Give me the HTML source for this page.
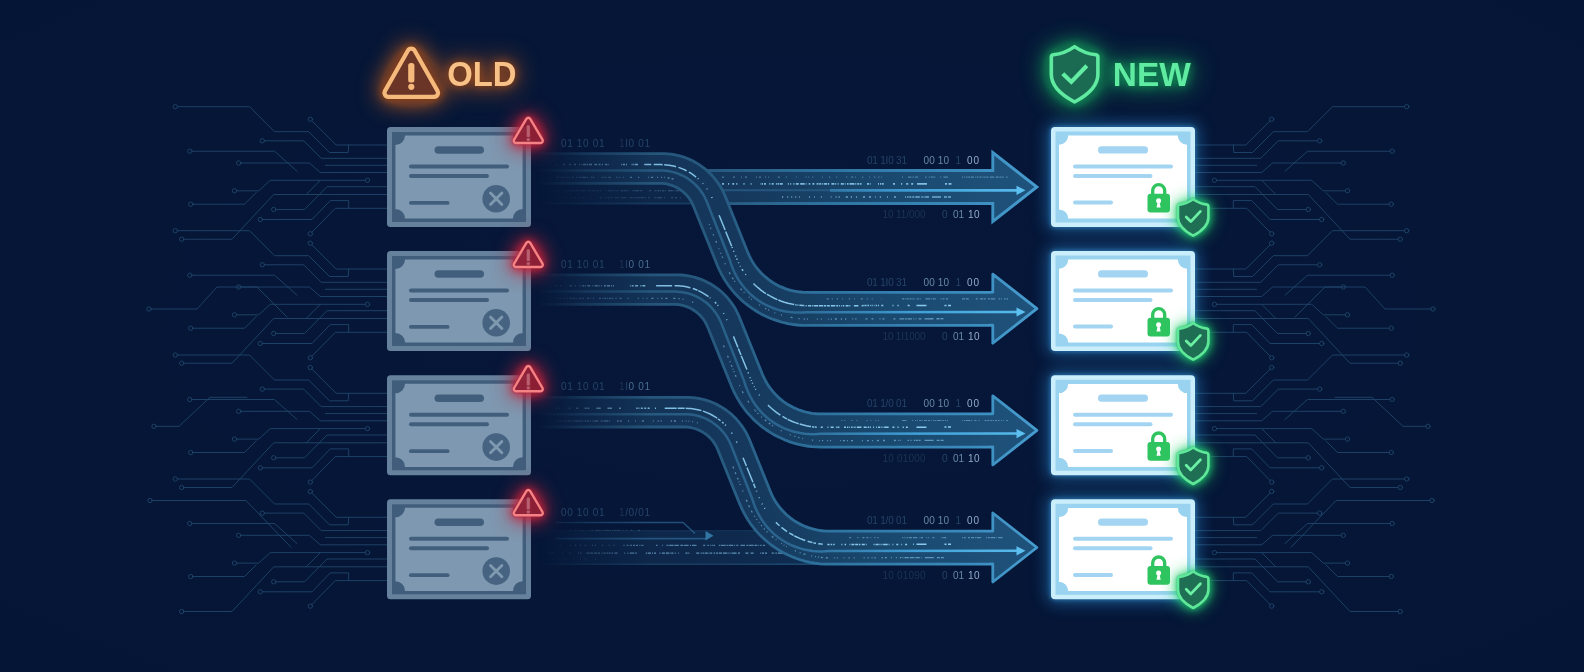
<!DOCTYPE html>
<html lang="en"><head><meta charset="utf-8"><title>Old vs New certificates</title>
<style>html,body{margin:0;padding:0;background:#051535;overflow:hidden}svg{display:block}text{font-family:"Liberation Sans",sans-serif}</style></head><body>
<svg width="1584" height="672" viewBox="0 0 1584 672">
<defs>
<radialGradient id="bgG" cx="50%" cy="48%" r="70%"><stop offset="0" stop-color="#06173a"/><stop offset="0.6" stop-color="#051637"/><stop offset="1" stop-color="#051535"/></radialGradient>
<linearGradient id="edgeG" gradientUnits="userSpaceOnUse" x1="540" y1="0" x2="1040" y2="0"><stop offset="0" stop-color="#235072"/><stop offset="0.35" stop-color="#27597f"/><stop offset="0.6" stop-color="#2f76a3"/><stop offset="0.85" stop-color="#3a8bbd"/><stop offset="1" stop-color="#489ed0"/></linearGradient>
<linearGradient id="fillG" gradientUnits="userSpaceOnUse" x1="540" y1="0" x2="1040" y2="0"><stop offset="0" stop-color="#123053"/><stop offset="0.4" stop-color="#15385c"/><stop offset="0.7" stop-color="#1a496f"/><stop offset="1" stop-color="#1f537c"/></linearGradient>
<linearGradient id="midG" gradientUnits="userSpaceOnUse" x1="540" y1="0" x2="1040" y2="0"><stop offset="0" stop-color="#235072"/><stop offset="0.5" stop-color="#2b6590"/><stop offset="0.75" stop-color="#3f9fd6"/><stop offset="1" stop-color="#5cc0f0"/></linearGradient>
<linearGradient id="dashG" gradientUnits="userSpaceOnUse" x1="540" y1="0" x2="1040" y2="0"><stop offset="0" stop-color="#8cc4e8" stop-opacity="0.5"/><stop offset="0.25" stop-color="#8ed0f5" stop-opacity="0.88"/><stop offset="1" stop-color="#98d8fa" stop-opacity="0.92"/></linearGradient>
<linearGradient id="fadeG" gradientUnits="userSpaceOnUse" x1="536" y1="0" x2="650" y2="0"><stop offset="0" stop-color="#fff" stop-opacity="0"/><stop offset="0.45" stop-color="#fff" stop-opacity="0.55"/><stop offset="1" stop-color="#fff" stop-opacity="1"/></linearGradient>
<mask id="fadeM" maskUnits="userSpaceOnUse" x="0" y="0" width="1584" height="672"><rect x="0" y="0" width="1584" height="672" fill="url(#fadeG)"/></mask>
<filter id="gOrange" x="-120%" y="-120%" width="340%" height="340%" color-interpolation-filters="sRGB"><feGaussianBlur in="SourceAlpha" stdDeviation="13" result="b0"/><feComponentTransfer in="b0" result="a0"><feFuncA type="linear" slope="3.4"/></feComponentTransfer><feFlood flood-color="#c05c1c" flood-opacity="0.46"/><feComposite in2="a0" operator="in" result="g0"/><feGaussianBlur in="SourceAlpha" stdDeviation="5" result="b1"/><feComponentTransfer in="b1" result="a1"><feFuncA type="linear" slope="1.9"/></feComponentTransfer><feFlood flood-color="#b5521a" flood-opacity="0.5"/><feComposite in2="a1" operator="in" result="g1"/><feGaussianBlur in="SourceAlpha" stdDeviation="1.3" result="b2"/><feComponentTransfer in="b2" result="a2"><feFuncA type="linear" slope="1.6"/></feComponentTransfer><feFlood flood-color="#6b3314" flood-opacity="0.7"/><feComposite in2="a2" operator="in" result="g2"/><feMerge><feMergeNode in="g0"/><feMergeNode in="g1"/><feMergeNode in="g2"/><feMergeNode in="SourceGraphic"/></feMerge></filter>
<filter id="gGreen" x="-120%" y="-120%" width="340%" height="340%" color-interpolation-filters="sRGB"><feGaussianBlur in="SourceAlpha" stdDeviation="13" result="b0"/><feComponentTransfer in="b0" result="a0"><feFuncA type="linear" slope="3.4"/></feComponentTransfer><feFlood flood-color="#14a45c" flood-opacity="0.44"/><feComposite in2="a0" operator="in" result="g0"/><feGaussianBlur in="SourceAlpha" stdDeviation="5" result="b1"/><feComponentTransfer in="b1" result="a1"><feFuncA type="linear" slope="1.9"/></feComponentTransfer><feFlood flood-color="#15a25c" flood-opacity="0.5"/><feComposite in2="a1" operator="in" result="g1"/><feGaussianBlur in="SourceAlpha" stdDeviation="1.3" result="b2"/><feComponentTransfer in="b2" result="a2"><feFuncA type="linear" slope="1.6"/></feComponentTransfer><feFlood flood-color="#0e6a42" flood-opacity="0.6"/><feComposite in2="a2" operator="in" result="g2"/><feMerge><feMergeNode in="g0"/><feMergeNode in="g1"/><feMergeNode in="g2"/><feMergeNode in="SourceGraphic"/></feMerge></filter>
<filter id="gGreenS" x="-120%" y="-120%" width="340%" height="340%" color-interpolation-filters="sRGB"><feGaussianBlur in="SourceAlpha" stdDeviation="9" result="b0"/><feComponentTransfer in="b0" result="a0"><feFuncA type="linear" slope="2.6"/></feComponentTransfer><feFlood flood-color="#22d36f" flood-opacity="0.34"/><feComposite in2="a0" operator="in" result="g0"/><feGaussianBlur in="SourceAlpha" stdDeviation="4" result="b1"/><feComponentTransfer in="b1" result="a1"><feFuncA type="linear" slope="1.7"/></feComponentTransfer><feFlood flood-color="#22d36f" flood-opacity="0.5"/><feComposite in2="a1" operator="in" result="g1"/><feGaussianBlur in="SourceAlpha" stdDeviation="1.2" result="b2"/><feComponentTransfer in="b2" result="a2"><feFuncA type="linear" slope="1.4"/></feComponentTransfer><feFlood flood-color="#17a05a" flood-opacity="0.5"/><feComposite in2="a2" operator="in" result="g2"/><feMerge><feMergeNode in="g0"/><feMergeNode in="g1"/><feMergeNode in="g2"/><feMergeNode in="SourceGraphic"/></feMerge></filter>
<filter id="gRed" x="-120%" y="-120%" width="340%" height="340%" color-interpolation-filters="sRGB"><feGaussianBlur in="SourceAlpha" stdDeviation="11" result="b0"/><feComponentTransfer in="b0" result="a0"><feFuncA type="linear" slope="4.5"/></feComponentTransfer><feFlood flood-color="#c4203a" flood-opacity="0.5"/><feComposite in2="a0" operator="in" result="g0"/><feGaussianBlur in="SourceAlpha" stdDeviation="5" result="b1"/><feComponentTransfer in="b1" result="a1"><feFuncA type="linear" slope="2.4"/></feComponentTransfer><feFlood flood-color="#c8243c" flood-opacity="0.6"/><feComposite in2="a1" operator="in" result="g1"/><feGaussianBlur in="SourceAlpha" stdDeviation="1.2" result="b2"/><feComponentTransfer in="b2" result="a2"><feFuncA type="linear" slope="1.4"/></feComponentTransfer><feFlood flood-color="#a01c32" flood-opacity="0.5"/><feComposite in2="a2" operator="in" result="g2"/><feMerge><feMergeNode in="g0"/><feMergeNode in="g1"/><feMergeNode in="g2"/><feMergeNode in="SourceGraphic"/></feMerge></filter>
<filter id="gCard" x="-30%" y="-40%" width="160%" height="180%" color-interpolation-filters="sRGB"><feGaussianBlur stdDeviation="8"/></filter>
<filter id="gCard2" x="-10%" y="-15%" width="120%" height="130%" color-interpolation-filters="sRGB"><feGaussianBlur stdDeviation="2.2"/></filter>
<filter id="blur1" x="-10%" y="-50%" width="120%" height="200%"><feGaussianBlur stdDeviation="0.5"/></filter>
</defs>
<rect width="1584" height="672" fill="url(#bgG)"/>
<g fill="none" stroke="#21476c" stroke-width="0.95" stroke-linecap="round" stroke-linejoin="round" opacity="0.95">
<path d="M387,145L336.2,145L311.9,120.8"/>
<circle cx="310.3" cy="119.2" r="2.2"/>
<path d="M348.7,145L348.2,152.5L329.5,152.5L308.7,131.7L274.5,131.7L249.5,106.7L177.6,106.7"/>
<circle cx="175.3" cy="106.7" r="2.2"/>
<path d="M387,158.3L321.2,158.3L303.7,140.8L264.6,140.8"/>
<circle cx="262.3" cy="140.8" r="2.2"/>
<path d="M387,165.3L325.3,165.3"/>
<path d="M387,172.5L320.3,172.5L309.5,163L240.9,163"/>
<circle cx="238.7" cy="163" r="2.2"/>
<path d="M297,171.2L274.5,151.2L192.1,151.2"/>
<circle cx="189.8" cy="151.2" r="2.2"/>
<path d="M365.2,180.3L270.3,180.3L258.7,190.8L236.8,190.8"/>
<circle cx="367.5" cy="180.3" r="2.2"/>
<circle cx="234.5" cy="190.8" r="2.2"/>
<path d="M256.2,192.5L244.5,204.2L192.9,204.2"/>
<circle cx="190.7" cy="204.2" r="2.2"/>
<path d="M320.3,180.3L306.2,194.5"/>
<path d="M387,186.7L327,186.7L304.5,209.5L275.9,209.5"/>
<circle cx="273.7" cy="209.5" r="2.2"/>
<path d="M387,194.5L273.7,194.5L232,239.2L183.9,239.2"/>
<circle cx="181.7" cy="239.2" r="2.2"/>
<path d="M387,208.3L335.3,208.3L311.9,232.2"/>
<circle cx="310.3" cy="233.8" r="2.2"/>
<path d="M348.7,208.3L348.7,200.6L330.3,200.6L312,219.5L262.6,219.5"/>
<circle cx="260.3" cy="219.5" r="2.2"/>
<path d="M387,269L336.2,269L311.9,244.8"/>
<circle cx="310.3" cy="243.2" r="2.2"/>
<path d="M348.7,269L348.2,276.5L329.5,276.5L308.7,255.7L274.5,255.7L249.5,230.7L177.6,230.7"/>
<circle cx="175.3" cy="230.7" r="2.2"/>
<path d="M387,282.3L321.2,282.3L303.7,264.8L264.6,264.8"/>
<circle cx="262.3" cy="264.8" r="2.2"/>
<path d="M387,289.3L325.3,289.3"/>
<path d="M387,296.5L320.3,296.5L309.5,287L240.9,287"/>
<circle cx="238.7" cy="287" r="2.2"/>
<path d="M297,295.2L274.5,275.2L192.1,275.2"/>
<circle cx="189.8" cy="275.2" r="2.2"/>
<path d="M365.2,304.3L270.3,304.3L258.7,314.8L236.8,314.8"/>
<circle cx="367.5" cy="304.3" r="2.2"/>
<circle cx="234.5" cy="314.8" r="2.2"/>
<path d="M256.2,316.5L244.5,328.2L192.9,328.2"/>
<circle cx="190.7" cy="328.2" r="2.2"/>
<path d="M320.3,304.3L306.2,318.5"/>
<path d="M387,310.7L327,310.7L304.5,333.5L275.9,333.5"/>
<circle cx="273.7" cy="333.5" r="2.2"/>
<path d="M387,318.5L273.7,318.5L232,363.2L183.9,363.2"/>
<circle cx="181.7" cy="363.2" r="2.2"/>
<path d="M387,332.3L335.3,332.3L311.9,356.2"/>
<circle cx="310.3" cy="357.8" r="2.2"/>
<path d="M348.7,332.3L348.7,324.6L330.3,324.6L312,343.5L262.6,343.5"/>
<circle cx="260.3" cy="343.5" r="2.2"/>
<path d="M287,317L257,287L217,287L197,309L151.2,309"/>
<circle cx="149" cy="309" r="2.2"/>
<path d="M387,393.3L336.2,393.3L311.9,369.1"/>
<circle cx="310.3" cy="367.5" r="2.2"/>
<path d="M348.7,393.3L348.2,400.8L329.5,400.8L308.7,380L274.5,380L249.5,355L177.6,355"/>
<circle cx="175.3" cy="355" r="2.2"/>
<path d="M387,406.6L321.2,406.6L303.7,389.1L264.6,389.1"/>
<circle cx="262.3" cy="389.1" r="2.2"/>
<path d="M387,413.6L325.3,413.6"/>
<path d="M387,420.8L320.3,420.8L309.5,411.3L240.9,411.3"/>
<circle cx="238.7" cy="411.3" r="2.2"/>
<path d="M297,419.5L274.5,399.5L192.1,399.5"/>
<circle cx="189.8" cy="399.5" r="2.2"/>
<path d="M365.2,428.6L270.3,428.6L258.7,439.1L236.8,439.1"/>
<circle cx="367.5" cy="428.6" r="2.2"/>
<circle cx="234.5" cy="439.1" r="2.2"/>
<path d="M256.2,440.8L244.5,452.5L192.9,452.5"/>
<circle cx="190.7" cy="452.5" r="2.2"/>
<path d="M320.3,428.6L306.2,442.8"/>
<path d="M387,435L327,435L304.5,457.8L275.9,457.8"/>
<circle cx="273.7" cy="457.8" r="2.2"/>
<path d="M387,442.8L273.7,442.8L232,487.5L183.9,487.5"/>
<circle cx="181.7" cy="487.5" r="2.2"/>
<path d="M387,456.6L335.3,456.6L311.9,480.5"/>
<circle cx="310.3" cy="482.1" r="2.2"/>
<path d="M348.7,456.6L348.7,448.9L330.3,448.9L312,467.8L262.6,467.8"/>
<circle cx="260.3" cy="467.8" r="2.2"/>
<path d="M247,397.3L210,397.3L179,426.3L156.2,426.3"/>
<circle cx="154" cy="426.3" r="2.2"/>
<path d="M387,517.3L336.2,517.3L311.9,493.1"/>
<circle cx="310.3" cy="491.5" r="2.2"/>
<path d="M348.7,517.3L348.2,524.8L329.5,524.8L308.7,504L274.5,504L249.5,479L177.6,479"/>
<circle cx="175.3" cy="479" r="2.2"/>
<path d="M387,530.6L321.2,530.6L303.7,513.1L264.6,513.1"/>
<circle cx="262.3" cy="513.1" r="2.2"/>
<path d="M387,537.6L325.3,537.6"/>
<path d="M387,544.8L320.3,544.8L309.5,535.3L240.9,535.3"/>
<circle cx="238.7" cy="535.3" r="2.2"/>
<path d="M297,543.5L274.5,523.5L192.1,523.5"/>
<circle cx="189.8" cy="523.5" r="2.2"/>
<path d="M365.2,552.6L270.3,552.6L258.7,563.1L236.8,563.1"/>
<circle cx="367.5" cy="552.6" r="2.2"/>
<circle cx="234.5" cy="563.1" r="2.2"/>
<path d="M256.2,564.8L244.5,576.5L192.9,576.5"/>
<circle cx="190.7" cy="576.5" r="2.2"/>
<path d="M320.3,552.6L306.2,566.8"/>
<path d="M387,559L327,559L304.5,581.8L275.9,581.8"/>
<circle cx="273.7" cy="581.8" r="2.2"/>
<path d="M387,566.8L273.7,566.8L232,611.5L183.9,611.5"/>
<circle cx="181.7" cy="611.5" r="2.2"/>
<path d="M387,580.6L335.3,580.6L311.9,604.5"/>
<circle cx="310.3" cy="606.1" r="2.2"/>
<path d="M348.7,580.6L348.7,572.9L330.3,572.9L312,591.8L262.6,591.8"/>
<circle cx="260.3" cy="591.8" r="2.2"/>
<path d="M291,547.3L246,500.5L152.2,500.5"/>
<circle cx="150" cy="500.5" r="2.2"/>
</g>
<g fill="none" stroke="#21476c" stroke-width="0.95" stroke-linecap="round" stroke-linejoin="round" opacity="0.95">
<path d="M1195,145L1245.8,145L1270.1,120.8"/>
<circle cx="1271.7" cy="119.2" r="2.2"/>
<path d="M1233.3,145L1233.8,152.5L1252.5,152.5L1273.3,131.7L1307.5,131.7L1332.5,106.7L1404.5,106.7"/>
<circle cx="1406.7" cy="106.7" r="2.2"/>
<path d="M1195,158.3L1260.8,158.3L1278.3,140.8L1317.5,140.8"/>
<circle cx="1319.7" cy="140.8" r="2.2"/>
<path d="M1195,165.3L1256.7,165.3"/>
<path d="M1195,172.5L1261.7,172.5L1272.5,163L1341,163"/>
<circle cx="1343.3" cy="163" r="2.2"/>
<path d="M1285,171.2L1307.5,151.2L1390,151.2"/>
<circle cx="1392.2" cy="151.2" r="2.2"/>
<path d="M1216.8,180.3L1311.7,180.3L1323.3,190.8L1345.2,190.8"/>
<circle cx="1214.5" cy="180.3" r="2.2"/>
<circle cx="1347.5" cy="190.8" r="2.2"/>
<path d="M1325.8,192.5L1337.5,204.2L1389,204.2"/>
<circle cx="1391.3" cy="204.2" r="2.2"/>
<path d="M1261.7,180.3L1275.8,194.5"/>
<path d="M1195,186.7L1255,186.7L1277.5,209.5L1306,209.5"/>
<circle cx="1308.3" cy="209.5" r="2.2"/>
<path d="M1195,194.5L1308.3,194.5L1350,239.2L1398,239.2"/>
<circle cx="1400.3" cy="239.2" r="2.2"/>
<path d="M1210.8,208.3L1246.7,208.3L1270.1,232.2"/>
<circle cx="1271.7" cy="233.8" r="2.2"/>
<path d="M1233.3,208.3L1233.3,200.6L1251.7,200.6L1270,219.5L1319.5,219.5"/>
<circle cx="1321.7" cy="219.5" r="2.2"/>
<path d="M1195,269L1245.8,269L1270.1,244.8"/>
<circle cx="1271.7" cy="243.2" r="2.2"/>
<path d="M1233.3,269L1233.8,276.5L1252.5,276.5L1273.3,255.7L1307.5,255.7L1332.5,230.7L1404.5,230.7"/>
<circle cx="1406.7" cy="230.7" r="2.2"/>
<path d="M1195,282.3L1260.8,282.3L1278.3,264.8L1317.5,264.8"/>
<circle cx="1319.7" cy="264.8" r="2.2"/>
<path d="M1195,289.3L1256.7,289.3"/>
<path d="M1195,296.5L1261.7,296.5L1272.5,287L1341,287"/>
<circle cx="1343.3" cy="287" r="2.2"/>
<path d="M1285,295.2L1307.5,275.2L1390,275.2"/>
<circle cx="1392.2" cy="275.2" r="2.2"/>
<path d="M1216.8,304.3L1311.7,304.3L1323.3,314.8L1345.2,314.8"/>
<circle cx="1214.5" cy="304.3" r="2.2"/>
<circle cx="1347.5" cy="314.8" r="2.2"/>
<path d="M1325.8,316.5L1337.5,328.2L1389,328.2"/>
<circle cx="1391.3" cy="328.2" r="2.2"/>
<path d="M1261.7,304.3L1275.8,318.5"/>
<path d="M1195,310.7L1255,310.7L1277.5,333.5L1306,333.5"/>
<circle cx="1308.3" cy="333.5" r="2.2"/>
<path d="M1195,318.5L1308.3,318.5L1350,363.2L1398,363.2"/>
<circle cx="1400.3" cy="363.2" r="2.2"/>
<path d="M1210.8,332.3L1246.7,332.3L1270.1,356.2"/>
<circle cx="1271.7" cy="357.8" r="2.2"/>
<path d="M1233.3,332.3L1233.3,324.6L1251.7,324.6L1270,343.5L1319.5,343.5"/>
<circle cx="1321.7" cy="343.5" r="2.2"/>
<path d="M1295,317L1325,287L1365,287L1385,309L1430.8,309"/>
<circle cx="1433" cy="309" r="2.2"/>
<path d="M1195,393.3L1245.8,393.3L1270.1,369.1"/>
<circle cx="1271.7" cy="367.5" r="2.2"/>
<path d="M1233.3,393.3L1233.8,400.8L1252.5,400.8L1273.3,380L1307.5,380L1332.5,355L1404.5,355"/>
<circle cx="1406.7" cy="355" r="2.2"/>
<path d="M1195,406.6L1260.8,406.6L1278.3,389.1L1317.5,389.1"/>
<circle cx="1319.7" cy="389.1" r="2.2"/>
<path d="M1195,413.6L1256.7,413.6"/>
<path d="M1195,420.8L1261.7,420.8L1272.5,411.3L1341,411.3"/>
<circle cx="1343.3" cy="411.3" r="2.2"/>
<path d="M1285,419.5L1307.5,399.5L1390,399.5"/>
<circle cx="1392.2" cy="399.5" r="2.2"/>
<path d="M1216.8,428.6L1311.7,428.6L1323.3,439.1L1345.2,439.1"/>
<circle cx="1214.5" cy="428.6" r="2.2"/>
<circle cx="1347.5" cy="439.1" r="2.2"/>
<path d="M1325.8,440.8L1337.5,452.5L1389,452.5"/>
<circle cx="1391.3" cy="452.5" r="2.2"/>
<path d="M1261.7,428.6L1275.8,442.8"/>
<path d="M1195,435L1255,435L1277.5,457.8L1306,457.8"/>
<circle cx="1308.3" cy="457.8" r="2.2"/>
<path d="M1195,442.8L1308.3,442.8L1350,487.5L1398,487.5"/>
<circle cx="1400.3" cy="487.5" r="2.2"/>
<path d="M1210.8,456.6L1246.7,456.6L1270.1,480.5"/>
<circle cx="1271.7" cy="482.1" r="2.2"/>
<path d="M1233.3,456.6L1233.3,448.9L1251.7,448.9L1270,467.8L1319.5,467.8"/>
<circle cx="1321.7" cy="467.8" r="2.2"/>
<path d="M1335,397.3L1372,397.3L1403,426.3L1425.8,426.3"/>
<circle cx="1428" cy="426.3" r="2.2"/>
<path d="M1195,517.3L1245.8,517.3L1270.1,493.1"/>
<circle cx="1271.7" cy="491.5" r="2.2"/>
<path d="M1233.3,517.3L1233.8,524.8L1252.5,524.8L1273.3,504L1307.5,504L1332.5,479L1404.5,479"/>
<circle cx="1406.7" cy="479" r="2.2"/>
<path d="M1195,530.6L1260.8,530.6L1278.3,513.1L1317.5,513.1"/>
<circle cx="1319.7" cy="513.1" r="2.2"/>
<path d="M1195,537.6L1256.7,537.6"/>
<path d="M1195,544.8L1261.7,544.8L1272.5,535.3L1341,535.3"/>
<circle cx="1343.3" cy="535.3" r="2.2"/>
<path d="M1285,543.5L1307.5,523.5L1390,523.5"/>
<circle cx="1392.2" cy="523.5" r="2.2"/>
<path d="M1216.8,552.6L1311.7,552.6L1323.3,563.1L1345.2,563.1"/>
<circle cx="1214.5" cy="552.6" r="2.2"/>
<circle cx="1347.5" cy="563.1" r="2.2"/>
<path d="M1325.8,564.8L1337.5,576.5L1389,576.5"/>
<circle cx="1391.3" cy="576.5" r="2.2"/>
<path d="M1261.7,552.6L1275.8,566.8"/>
<path d="M1195,559L1255,559L1277.5,581.8L1306,581.8"/>
<circle cx="1308.3" cy="581.8" r="2.2"/>
<path d="M1195,566.8L1308.3,566.8L1350,611.5L1398,611.5"/>
<circle cx="1400.3" cy="611.5" r="2.2"/>
<path d="M1210.8,580.6L1246.7,580.6L1270.1,604.5"/>
<circle cx="1271.7" cy="606.1" r="2.2"/>
<path d="M1233.3,580.6L1233.3,572.9L1251.7,572.9L1270,591.8L1319.5,591.8"/>
<circle cx="1321.7" cy="591.8" r="2.2"/>
<path d="M1291,547.3L1336,500.5L1429.8,500.5"/>
<circle cx="1432" cy="500.5" r="2.2"/>
</g>
<g mask="url(#fadeM)">
<g opacity="0.55"><path d="M538,170.4 L712,170.4 L712,203.6 L538,203.6 Z" fill="url(#fillG)"/><path d="M538,170.4 L712,170.4 M538,203.6 L712,203.6" stroke="url(#edgeG)" stroke-width="2" fill="none"/></g>
<path d="M706,170.4L992.8,170.5L992.8,152.5L1036.9,187L992.8,221.5L992.8,203.5L706,203.6Z" fill="url(#fillG)" stroke="url(#edgeG)" stroke-width="2.9" stroke-linejoin="miter"/>
<path d="M830,190.3 L1018,190.3" stroke="url(#midG)" stroke-width="2.8" fill="none"/>
<path d="M1016.5,185.7 L1025.5,190.3 L1016.5,194.9 Z" fill="#5cc0f0"/>
<path d="M706,190.3 L830,190.3" stroke="#2c638d" stroke-width="2" fill="none" opacity="0.7"/>
<path d="M722,177.2 L1010,177.2" fill="none" stroke="url(#dashG)" stroke-width="1.2" stroke-dasharray="2 9 2 6 1 3 2 9 1 2 2 4 1 2 0.8 9 2 6 1 9 0.8 9 0.8 2 0.8 3 1 9 0.8 6 1.2 6 1 9 1 4 2 2 0.8 6 1.2 6 0.8 4 1.2 3 1.2 2 0.6 20 1 5 3 0.7 0.8 0.8 0.8 1 3 7 1.5 2.2 1 1 3 0.7 1 4.7 1 2.2 4.5 14.1 1 1 1 1 1.5 0.7 2 0.7 3 1.4 1 0.7 1.5 1 2 1 1 0.7 1.5 0.7 2 1.4 4.5 1.4 3 0.8 2 0.8 1.5 2.2 1.5 0.5 0 3000" opacity="0.45"/>
<path d="M722,183.8 L955,183.8" fill="none" stroke="url(#dashG)" stroke-width="1.7" stroke-dasharray="2 4 1.2 3 2 2 1.2 6 1.2 6 1 9 0.8 0.6 1 1 2 3.3 1 1.4 2 2.2 1 0.7 1.5 0.7 3 5 1 1.4 1 2.2 1 1.4 3 1.4 4.5 1 0.8 2.2 1.5 2.2 2 2.2 2 0.7 2 1 1 0.7 3 0.7 1.5 2.2 3 0.8 1 1.4 1 2.2 3 1 0.8 1.4 1.5 1 5 0.8 1 1 2 0.8 1.5 5.4 2 0.8 0.8 7.4 1 1 1 0.7 2 9.3 2 6 1.2 4 2 3 2 3.8 10 18 2 1.5 3 0 0 3000" opacity="0.9"/>
<path d="M722,197 L952,197" fill="none" stroke="url(#dashG)" stroke-width="1.6" stroke-dasharray="0 60 1.2 4 1 3 1 3 1 3 0.8 9 1 4 0.8 6 1 9 0.8 4 1 2 1.2 6 2 3 1.2 4 1 6 2 4 2 4 0.8 4 1.2 6 1 6 2 9 1 1 1.5 0.8 2 1 2 1 4.5 1.4 1.5 0.8 1 0.7 3.8 3 9 3 3 1 3 0 0 3000" opacity="0.75"/>
<path d="M552,190.8 L700,190.8" fill="none" stroke="url(#dashG)" stroke-width="1.1" stroke-dasharray="2 2.2 0.8 1 1.5 4.7 1 1 1.5 1 1.5 0.7 3 1 3 0.8 1 0.8 4.5 0.8 0.8 0.8 1 0.8 1.5 1.4 1.5 0.8 1.5 1 2 1 1 5 0.8 1.4 2 0.7 2 1 1 1 1 0.7 0.8 2.2 3 0.7 3 1 0.8 3.5 1.5 0.7 4.5 1 2 7 2 3.5 1.5 1 2 0.8 1 1 2 0.8 1 2.2 4.5 0.8 1 1.4 3 0.7 2 1 3 6.8 0.8 1 1.5 0.8 1 2.2 2.5 0 0 3000" opacity="0.35"/>
<path d="M560,197.8 L690,197.8" fill="none" stroke="url(#dashG)" stroke-width="1.1" stroke-dasharray="0.8 6 1.2 2 0.8 3 2 4 1.2 2 1.2 6 1 6 0.8 2 2 2.2 1 1 1 1 2 1 1.5 2.2 2 0.7 1.5 2.2 4.5 0.8 0.8 2.2 3 1 1 0.7 1.5 0.7 2 1 3 1 1.5 2.2 1.5 4.8 2 1 4.5 2 1 6 2 2 2 3 0.8 9 0 3000" opacity="0.3"/>
<g opacity="0.6"><path d="M538,530.7 L840,530.7 L840,564.3 L538,564.3 Z" fill="url(#fillG)"/><path d="M538,564.3 L830,564.3" stroke="url(#edgeG)" stroke-width="1.6" fill="none"/><path d="M538,530.7 L800,530.7" stroke="url(#edgeG)" stroke-width="1.2" fill="none" opacity="0.6"/></g>
<g opacity="0.7" fill="none" stroke="#2f6a96" stroke-width="1.6"><path d="M556,522.5 L683,522.5 L695,533.5"/><path d="M556,538.6 L707,538.6"/></g>
<path d="M705.5,531 L713.5,535.8 L705.5,540.6 Z" fill="#3a82b4" opacity="0.85"/>
<path d="M560,530.3 L640,530.3" fill="none" stroke="url(#dashG)" stroke-width="1.0" stroke-dasharray="1.2 9 0.8 4 1 3 1.2 2 1 6.8 0.8 1.4 0.8 2.2 4.5 0.8 1 0.7 0.8 1 1.5 0.8 3 1 0.8 0.8 1 0.8 2 1 2 1 0.8 2 0.8 3 0.8 4 1 6 1.6 0 0 3000" opacity="0.45"/>
<path d="M560,545.3 L770,545.3" fill="none" stroke="url(#dashG)" stroke-width="1.2" stroke-dasharray="0.8 9 1 4 1.2 4 1 4 1 6 1 2 1 6 0.8 6 0.8 4 0.8 9 1.2 2 2 1.4 2 1 2 1 2 1.4 1 1 2 12.6 1.5 4.7 0.8 3.5 2 0.7 4.5 0.7 4.5 1.4 3 0.8 4.5 1.4 1 1 4.5 6.7 2 2.2 1.5 1.4 1 0.7 0.8 0.7 1.5 3.9 1.5 0.7 4.5 0.8 1.5 0.7 4.5 0.8 1 1.4 2 2.2 4.5 1.4 2 0.7 4.5 0.8 3 1 0.8 1 1.5 1.4 2 7 1.5 1.4 0.8 0.2 0 3000" opacity="0.6"/>
<path d="M548,553.2 L800,553.2" fill="none" stroke="url(#dashG)" stroke-width="1.3" stroke-dasharray="1.2 2 2 9 1 6 1.2 7.6 1 1 1.5 5 3 0.7 3 1 3 0.8 2 1.4 1 1 2 1 1.5 0.7 2 1 1.5 1.4 3 6.7 1 2.2 1 1.4 4.5 1 1.5 9 1.5 0.7 3 1 1 1 2 3.5 1 1.4 3 1 3 0.7 1 0.7 2 1.4 1 2.2 0.8 6.8 2 0.8 1 7 3 1.4 1 0.7 1.5 0.8 3 0.8 1 0.7 2 1.4 1.5 1 2 0.8 3 1 4.5 1 1 1 1 0.7 4.5 1.4 2 5.4 3 2.2 3 6.7 1 0.7 2 1 2 4.7 2 1 0.8 0.7 1 0.8 4.5 1.4 3 0.8 0.8 0.7 1 1.4 1 2.2 1 0 0 3000" opacity="0.7"/>
<path d="M548,559 L600,559" fill="none" stroke="url(#dashG)" stroke-width="1.0" stroke-dasharray="0.8 4 0.8 4 1 3 1.2 2 2 6 1.2 6 1 4 1.2 9 0.8 2 0 3000" opacity="0.35"/>
<path d="M536,153.7L661,153.7L664.3,153.7L667.6,153.9L670.9,154.2L674.2,154.7L677.4,155.4L680.7,156.2L683.8,157.2L687,158.3L690,159.6L693,161.1L696,162.7L698.8,164.4L701.6,166.3L704.3,168.3L706.9,170.4L709.3,172.7L711.7,175.1L713.9,177.6L716,180.3L718,183L719.9,185.8L721.6,188.7L723.1,191.7L724.6,194.8L747.9,252.7L749.2,255.5L750.6,258.4L752.1,261.1L753.7,263.8L755.5,266.3L757.5,268.8L759.5,271.2L761.6,273.5L763.9,275.7L766.3,277.7L768.7,279.7L771.3,281.5L773.9,283.2L776.6,284.7L779.4,286.2L782.3,287.4L785.2,288.6L788.2,289.6L791.2,290.4L794.3,291.1L797.4,291.7L800.5,292L803.6,292.3L806.8,292.3L987.3,292.3L992.8,292.2L992.8,274.2L1036.9,308.7L992.8,343.2L992.8,325.2L987.3,325.4L806.8,325.4L802,325.3L797.2,325L792.5,324.4L787.8,323.6L783.1,322.5L778.5,321.2L774,319.7L769.6,318L765.2,316L760.9,313.9L756.8,311.5L752.8,308.9L748.9,306.2L745.1,303.2L741.5,300.1L738.1,296.8L734.8,293.3L731.7,289.7L728.8,285.9L726.1,282L723.6,277.9L721.2,273.7L719.1,269.4L717.2,265.1L693.9,207.2L693.2,205.6L692.5,204L691.7,202.4L690.9,200.9L689.9,199.4L688.9,197.9L687.8,196.5L686.6,195.2L685.4,193.9L684.1,192.7L682.7,191.5L681.3,190.4L679.8,189.4L678.3,188.4L676.7,187.5L675.1,186.7L673.4,186L671.7,185.3L670,184.8L668.3,184.3L666.5,183.9L664.7,183.6L662.8,183.4L661,183.3L536,183.3Z" fill="url(#fillG)" stroke="url(#edgeG)" stroke-width="2.8" stroke-linejoin="round"/>
<path d="M536,170.5L661,170.5L663.5,170.6L665.9,170.8L668.4,171.1L670.8,171.6L673.2,172.1L675.6,172.8L677.9,173.6L680.2,174.5L682.4,175.5L684.6,176.7L686.8,177.9L688.8,179.3L690.8,180.7L692.7,182.2L694.6,183.9L696.3,185.6L698,187.4L699.6,189.3L701,191.2L702.4,193.3L703.7,195.3L704.9,197.5L705.9,199.7L706.9,202L729.8,260L731,263.9L732.5,267.8L734.2,271.7L736,275.4L738.1,279.1L740.4,282.6L743,286L745.7,289.3L748.6,292.4L751.7,295.3L755,298L758.5,300.5L762.1,302.8L765.8,304.8L769.7,306.7L773.6,308.2L777.7,309.6L781.8,310.7L785.9,311.5L790.1,312.1L794.3,312.5L798.5,312.6L802.6,312.5L806.8,312.2L1018,312" fill="none" stroke="url(#midG)" stroke-width="2.5"/>
<path d="M1016.5,307.4 L1025.5,312 L1016.5,316.6 Z" fill="#5cc0f0"/>
<path d="M556,164.6L661,164.6L663.8,164.7L666.5,164.9L669.3,165.2L672,165.7L674.7,166.3L677.3,167L680,167.9L682.5,168.9L685.1,170L687.5,171.3L689.9,172.7L692.3,174.2L694.5,175.8L696.7,177.5L698.8,179.3L700.8,181.2L702.7,183.2L704.4,185.3L706.1,187.5L707.7,189.8L709.2,192.1L710.5,194.5L711.7,197L712.8,199.6L736.2,257.4L737.7,260.9L739.3,264.3L741.1,267.6L743.1,270.8L745.2,273.9L747.5,276.9L749.9,279.8L752.5,282.6L755.2,285.2L758,287.7L760.9,290.1L764,292.3L767.2,294.3L770.4,296.2L773.8,298L777.3,299.6L780.8,301L784.4,302.2L788,303.2L791.7,304.1L795.4,304.8L799.2,305.3L803,305.6L806.8,305.7L958,305.5" fill="none" stroke="url(#dashG)" stroke-width="1.5" stroke-dasharray="1 6 2 4 2 3 2 3.1 1 1.4 0.8 0.7 3 0.7 1.5 0.8 3 2.2 3 1.4 2 1.4 1 2.2 2 0.7 0.6 12.6 0.8 1 2 1 1 4.7 1 0.8 1 0.7 2.8 6.3 7 2.5 9 1.5 12 2.5 9 2.5 8.8 2 1 6 0.8 6 0.8 9 1 18.6 16 1.5 16 0.8 1 3 1.2 4 1.2 2.1 1.2 3 0.8 3 0.8 3 2 4 1 11.5 16 1 12 1 16.5 1 1.5 0.8 1 1 4.5 0.7 0.8 0.9 0.8 1 3 0.7 1 0.8 4.5 0.7 4.5 0.7 2 0.8 3 1 4.5 1 2 0.8 0.8 1 0.8 1 1.5 1.4 3 0.8 1 3.5 4.5 3.3 2 0.8 2 1 1.5 1.4 1 1 0.8 1.4 0.8 0.7 1 1 1 2.2 2 9.2 1 4 1.2 9 2 6.8 10 18 2 1.5 3 0 0 3000" opacity="1.0"/>
<path d="M556,177.3L661,177.3L663.1,177.4L665.3,177.5L667.4,177.8L669.5,178.1L671.6,178.6L673.6,179.2L675.7,179.9L677.6,180.6L679.6,181.5L681.5,182.5L683.4,183.5L685.2,184.7L686.9,185.9L688.6,187.2L690.2,188.6L691.7,190.1L693.2,191.7L694.6,193.3L695.9,195L697.1,196.8L698.2,198.6L699.3,200.4L700.2,202.4L701.1,204.3L724.4,262.2L726.1,266.2L728,270.2L730.1,274.1L732.4,277.8L734.8,281.5L737.5,285L740.3,288.4L743.3,291.7L746.4,294.8L749.7,297.7L753.1,300.5L756.7,303.1L760.4,305.5L764.2,307.8L768.2,309.8L772.2,311.7L776.3,313.4L780.5,314.8L784.8,316.1L789.1,317.1L793.5,317.9L797.9,318.5L802.3,318.9L806.8,319.1L952,318.7" fill="none" stroke="url(#dashG)" stroke-width="1.3" stroke-dasharray="3 1 1 1 2 1.4 0.8 0.8 0.8 1 1 2.2 2 2.2 0.8 0.7 0.8 1 1.5 0.7 4.5 0.8 0.8 3.2 1 0.7 1.5 7.4 1 1 0.8 1 1 2.1 2 6 1 2 0.8 3 0.8 6 2 6 1.2 9 0.8 2 2 4 1 3 0.8 2 0.8 3 2 2 2 60.1 0.8 3 1 6 1.2 6 2 6 0.8 4 1 3 1.2 6 1.2 9 2 4 2 2 1 9 1.6 3 1 6 1 2 1 9 1 6 1.2 2 1 6 0.8 6 1 9 2 6 1.2 4 1.2 2 1 9 1 3 1 6 0.8 2 1.2 3 2 4 1.2 3 1.2 6 1 2 1.2 9 2 4 2 6 1 2 2 9 2 4 4.5 0.8 2 0.7 4.5 1.4 0.8 1.4 0.8 2.2 2.9 3 9 3 3 1 3 0 0 3000" opacity="0.6"/>
<path d="M826.8,298.9 L1010,298.9" fill="none" stroke="url(#dashG)" stroke-width="1.2" stroke-dasharray="2 3 1 4 1.2 4 0.8 6 1.2 4 0.8 6 2 4 1 4 0.8 9 0.4 20 2 0.7 1 0.8 2 1 2 1 2 2.2 2 1 1 4.8 4.5 0.7 1 1 3 4.8 1 1 2 1.4 2.1 14 3 0.8 3 7 2 2.2 3 0.7 2 2.2 2 0.8 4.5 3.5 1.5 0.8 0.8 2.2 1.5 1 1.5 0 0 3000" opacity="0.5"/>
<path d="M536,274.8L675.3,274.8L678.6,274.8L681.9,275L685.2,275.3L688.5,275.8L691.7,276.5L695,277.3L698.1,278.3L701.3,279.4L704.3,280.7L707.3,282.2L710.3,283.8L713.1,285.5L715.9,287.4L718.6,289.4L721.2,291.5L723.6,293.8L726,296.2L728.2,298.7L730.3,301.4L732.3,304.1L734.2,306.9L735.9,309.8L737.4,312.8L738.9,315.9L762.4,374.3L763.7,377.1L765.1,380L766.6,382.7L768.3,385.4L770,387.9L772,390.4L774,392.8L776.1,395.1L778.4,397.3L780.8,399.3L783.2,401.3L785.8,403.1L788.4,404.8L791.1,406.3L793.9,407.8L796.8,409L799.7,410.2L802.7,411.2L805.7,412L808.8,412.7L811.9,413.3L815,413.6L818.1,413.9L821.3,413.9L987.3,413.9L992.8,413.8L992.8,395.8L1036.9,430.3L992.8,464.8L992.8,446.8L987.3,447.1L821.3,447.1L816.5,446.9L811.7,446.6L807,446L802.3,445.2L797.6,444.1L793,442.8L788.5,441.3L784.1,439.6L779.7,437.6L775.4,435.5L771.3,433.1L767.3,430.5L763.4,427.8L759.6,424.8L756,421.7L752.6,418.4L749.3,414.9L746.2,411.3L743.3,407.5L740.6,403.6L738.1,399.5L735.8,395.3L733.6,391L731.7,386.7L708.2,328.3L707.5,326.7L706.8,325.1L706,323.5L705.2,322L704.2,320.5L703.2,319L702.1,317.6L700.9,316.3L699.7,315L698.4,313.8L697,312.6L695.6,311.5L694.1,310.5L692.6,309.5L691,308.6L689.4,307.8L687.7,307.1L686,306.4L684.3,305.9L682.6,305.4L680.8,305L679,304.7L677.1,304.5L675.3,304.4L536,304.4Z" fill="url(#fillG)" stroke="url(#edgeG)" stroke-width="2.8" stroke-linejoin="round"/>
<path d="M536,291.6L675.3,291.6L677.8,291.7L680.2,291.9L682.7,292.2L685.1,292.7L687.5,293.2L689.9,293.9L692.2,294.7L694.5,295.6L696.7,296.6L698.9,297.8L701.1,299L703.1,300.4L705.1,301.8L707,303.3L708.9,305L710.6,306.7L712.3,308.5L713.9,310.4L715.3,312.3L716.7,314.4L718,316.4L719.2,318.6L720.2,320.8L721.2,323.1L744.3,381.6L745.5,385.5L747,389.4L748.7,393.3L750.5,397L752.6,400.7L754.9,404.2L757.5,407.6L760.2,410.9L763.1,414L766.2,416.9L769.5,419.6L773,422.1L776.6,424.4L780.3,426.4L784.2,428.3L788.1,429.8L792.2,431.2L796.3,432.3L800.4,433.1L804.6,433.7L808.8,434.1L813,434.2L817.1,434.1L821.3,433.8L1018,433.6" fill="none" stroke="url(#midG)" stroke-width="2.5"/>
<path d="M1016.5,429 L1025.5,433.6 L1016.5,438.2 Z" fill="#5cc0f0"/>
<path d="M556,285.7L675.3,285.7L678.1,285.8L680.8,286L683.6,286.3L686.3,286.8L689,287.4L691.6,288.1L694.3,289L696.8,290L699.4,291.1L701.8,292.4L704.2,293.8L706.6,295.3L708.8,296.9L711,298.6L713.1,300.4L715.1,302.3L717,304.3L718.7,306.4L720.4,308.6L722,310.9L723.5,313.2L724.8,315.6L726,318.1L727.1,320.7L750.7,379L752.2,382.5L753.8,385.9L755.6,389.2L757.6,392.4L759.7,395.5L762,398.5L764.4,401.4L767,404.2L769.7,406.8L772.5,409.3L775.4,411.7L778.5,413.9L781.7,415.9L785,417.8L788.3,419.6L791.8,421.2L795.3,422.6L798.9,423.8L802.5,424.8L806.2,425.7L809.9,426.4L813.7,426.9L817.5,427.2L821.3,427.3L958,427.1" fill="none" stroke="url(#dashG)" stroke-width="1.5" stroke-dasharray="1 3 0.8 9 2 3 0.8 4 0.8 1.8 2 0.7 1 1.4 3 2.2 0.8 1.4 3 0.8 1 1.4 0.8 2.2 2 1 3 1 1 1 1 16 0.8 1 2 1.4 3 2.2 1 1 3 10.8 16 2.5 16 2.5 5 0.8 12 1.5 0.8 6 2 2 1 9 1 6 0.8 17.6 12 1 7 0.8 15 3 1.2 4 1 2.2 0.8 2 1 3 0.8 2 1 6 0.8 12.9 16 2.5 5 0.8 12 1 11.7 1 2 0.7 2 4 2 4.7 1 2.2 3 2.2 0.8 0.7 2 4.7 2 1 1 0.7 1 1.4 1.5 1 1 0.7 0.8 0.8 4.5 2.2 3 1 1.5 0.7 1 2.2 1 2.2 0.8 1 2 0.7 0.8 1 0.8 0.8 4.5 3.8 2 3 1.2 4 1.2 2 2 8.6 10 18 2 1.5 3 0 0 3000" opacity="1.0"/>
<path d="M556,298.4L675.3,298.4L677.4,298.5L679.6,298.6L681.7,298.9L683.8,299.2L685.9,299.7L687.9,300.3L690,301L691.9,301.7L693.9,302.6L695.8,303.6L697.7,304.6L699.5,305.8L701.2,307L702.9,308.3L704.5,309.7L706,311.2L707.5,312.8L708.9,314.4L710.2,316.1L711.4,317.9L712.5,319.7L713.6,321.5L714.5,323.5L715.4,325.4L738.9,383.8L740.6,387.8L742.5,391.8L744.6,395.7L746.9,399.4L749.3,403.1L752,406.6L754.8,410L757.8,413.3L760.9,416.4L764.2,419.3L767.6,422.1L771.2,424.7L774.9,427.1L778.7,429.4L782.7,431.4L786.7,433.3L790.8,435L795,436.4L799.3,437.7L803.6,438.7L808,439.5L812.4,440.1L816.8,440.5L821.3,440.7L952,440.3" fill="none" stroke="url(#dashG)" stroke-width="1.3" stroke-dasharray="1 0.7 1.5 0.8 1 2.2 1 1.4 0.8 0.7 0.8 1.4 3 0.8 2 0.7 1 2.2 2 0.8 2 3.2 2 1 0.8 2.2 1 5 2 1.4 1 0.7 2 0.7 1 1 2 0.8 1.5 2.2 1.3 3 2 6 1.2 9 1 4 0.8 3 0.8 4 2 4 0.8 3 1.2 3 2 6 2 3 1.2 3 1 9 1.2 54.4 2 9 2 4 1 3 2 2 0.8 2 1 3 2 9 0.8 6 2 9 2 9 1.2 0.6 0.8 2 1.2 4 0.8 4 2 3 2 2 1.2 9 1 9 0.8 4 1 3 1.2 3 0.8 9 1.2 6 0.8 2 1.2 4 1 2 1 9 0.8 2 2 2 1 3 2 9 1 4 2 3 1 4 2 4 2 9 2 2 0.7 1 1 7 1.5 1.4 1 2.2 1.5 0.7 2 0.7 2 4 9 3 3 1 3 0 0 3000" opacity="0.6"/>
<path d="M841.3,420.5 L1010,420.5" fill="none" stroke="url(#dashG)" stroke-width="1.2" stroke-dasharray="1 2 1 6 1.2 4 1 9 1 3 0.8 4 1 2 0.8 22.9 4.5 5.4 1 2.2 1 1 0.8 1.4 2 1 0.8 1 3 0.8 2 0.8 0.8 1.4 1.5 0.7 1 0.7 4.5 1 1.5 1 1 1 1.2 14 0.8 1 1 0.7 4.5 0.7 1.5 2.2 2 2.2 1 5 2 0.7 2 1 2 0.7 1 1 2 1 1.5 1.4 1 1.4 0.8 2.2 1.7 0 0 3000" opacity="0.5"/>
<path d="M536,397.4L685.4,397.4L688.7,397.4L692,397.6L695.3,397.9L698.6,398.4L701.8,399.1L705.1,399.9L708.2,400.9L711.4,402L714.4,403.3L717.4,404.8L720.4,406.4L723.2,408.1L726,410L728.7,412L731.3,414.1L733.7,416.4L736.1,418.8L738.3,421.3L740.4,424L742.4,426.7L744.3,429.5L746,432.4L747.5,435.4L749,438.5L770.4,491.5L771.6,494.3L773,497.2L774.5,499.9L776.2,502.6L778,505.1L779.9,507.6L781.9,510L784.1,512.3L786.3,514.5L788.7,516.5L791.1,518.5L793.7,520.3L796.3,522L799.1,523.5L801.9,525L804.7,526.2L807.7,527.4L810.6,528.4L813.7,529.2L816.7,529.9L819.8,530.5L822.9,530.8L826,531.1L829.2,531.2L987.3,531.2L992.8,531L992.8,513L1036.9,547.5L992.8,582L992.8,564L987.3,564.2L829.2,564.2L824.4,564.1L819.6,563.8L814.9,563.2L810.2,562.4L805.6,561.3L801,560L796.4,558.5L792,556.8L787.6,554.8L783.4,552.7L779.2,550.3L775.2,547.7L771.3,545L767.6,542L764,538.9L760.5,535.6L757.2,532.1L754.1,528.5L751.2,524.7L748.5,520.8L746,516.7L743.7,512.5L741.6,508.2L739.7,503.9L718.3,450.9L717.6,449.3L716.9,447.7L716.1,446.1L715.3,444.6L714.3,443.1L713.3,441.6L712.2,440.2L711,438.9L709.8,437.6L708.5,436.4L707.1,435.2L705.7,434.1L704.2,433.1L702.7,432.1L701.1,431.2L699.5,430.4L697.8,429.7L696.1,429L694.4,428.5L692.7,428L690.9,427.6L689.1,427.3L687.2,427.1L685.4,427L536,427Z" fill="url(#fillG)" stroke="url(#edgeG)" stroke-width="2.8" stroke-linejoin="round"/>
<path d="M536,414.2L685.4,414.2L687.9,414.3L690.3,414.5L692.8,414.8L695.2,415.3L697.6,415.8L700,416.5L702.3,417.3L704.6,418.2L706.8,419.2L709,420.4L711.2,421.6L713.2,423L715.2,424.4L717.1,425.9L719,427.6L720.7,429.3L722.4,431.1L724,433L725.4,434.9L726.8,437L728.1,439.1L729.3,441.2L730.3,443.4L731.3,445.7L752.2,498.8L753.5,502.7L754.9,506.6L756.6,510.5L758.5,514.2L760.6,517.9L762.9,521.4L765.4,524.8L768.1,528.1L771,531.2L774.1,534.1L777.4,536.8L780.9,539.3L784.5,541.6L788.2,543.6L792.1,545.5L796,547L800.1,548.4L804.2,549.5L808.3,550.3L812.5,550.9L816.7,551.3L820.9,551.4L825,551.3L829.2,551L1018,550.8" fill="none" stroke="url(#midG)" stroke-width="2.5"/>
<path d="M1016.5,546.2 L1025.5,550.8 L1016.5,555.4 Z" fill="#5cc0f0"/>
<path d="M556,408.3L685.4,408.3L688.2,408.4L690.9,408.6L693.7,408.9L696.4,409.4L699.1,410L701.7,410.7L704.4,411.6L706.9,412.6L709.5,413.7L711.9,415L714.3,416.4L716.7,417.9L718.9,419.5L721.1,421.2L723.2,423L725.2,424.9L727.1,426.9L728.8,429L730.5,431.2L732.1,433.5L733.6,435.8L734.9,438.2L736.1,440.7L737.2,443.3L758.6,496.2L760.1,499.7L761.7,503.1L763.5,506.4L765.5,509.6L767.6,512.7L769.9,515.7L772.3,518.6L774.9,521.4L777.6,524L780.4,526.5L783.4,528.9L786.4,531.1L789.6,533.1L792.9,535L796.2,536.8L799.7,538.4L803.2,539.8L806.8,541L810.4,542L814.1,542.9L817.8,543.6L821.6,544.1L825.4,544.4L829.2,544.5L958,544.3" fill="none" stroke="url(#dashG)" stroke-width="1.5" stroke-dasharray="1.2 2 0.8 9 1.2 6 2 6.3 2 0.8 2 7 4.5 6.7 4.5 7 1.7 15.5 1.5 0.7 1 1.4 2 1.4 2 1.4 2 5.4 1 8.7 12 1 7 1 16 1.5 16 1 3.2 2 2 2 1.2 9 1.2 9 1.2 16.3 9 1.5 16 1.5 4.6 3 0.8 6.4 0.8 6 1 4 1 17.5 5 2.5 7 2.5 5 0.8 12 2.5 5 1 2.7 2.2 4.5 4.7 2.3 1 1.5 1 1.5 6.7 1 2.2 1.5 3.5 0.8 1 3 0.8 3 0.7 1.5 1.4 3 1 0.8 7 1 1 3 0.8 1 1 1 0.8 4.5 1 0.8 3 0.8 3 2 3 0.8 3 2 6 0.8 2.6 10 18 2 1.5 3 0 0 3000" opacity="1.0"/>
<path d="M556,421L685.4,421L687.5,421.1L689.7,421.2L691.8,421.5L693.9,421.8L696,422.3L698,422.9L700.1,423.6L702,424.3L704,425.2L705.9,426.2L707.8,427.2L709.6,428.4L711.3,429.6L713,430.9L714.6,432.3L716.1,433.8L717.6,435.4L719,437L720.3,438.7L721.5,440.5L722.6,442.3L723.7,444.1L724.6,446.1L725.5,448L746.8,501L748.5,505L750.4,509L752.5,512.9L754.8,516.6L757.3,520.3L759.9,523.8L762.7,527.2L765.7,530.5L768.8,533.6L772.1,536.5L775.6,539.3L779.1,541.9L782.8,544.3L786.6,546.6L790.6,548.6L794.6,550.5L798.7,552.2L802.9,553.6L807.2,554.9L811.5,555.9L815.9,556.7L820.3,557.3L824.7,557.7L829.2,557.9L952,557.5" fill="none" stroke="url(#dashG)" stroke-width="1.3" stroke-dasharray="0.8 1 1 1 1 1 0.8 1.4 2 1.4 3 1 1 0.7 1 0.8 4.5 0.8 2 1.4 1 0.7 1 0.7 2 1 1 1.4 0.8 0.7 4.5 2.2 2 1 4.5 0.8 1 7 2 1 2 6 1.2 6 0.8 6 2 9 0.8 4 1 2 1 9 1.2 2 2 6 0.8 3 0.8 2 0.8 3 0.8 4 0.8 58.8 2 4 2 4 2 2 0.8 2 1 6 1 9 2 4 2 4 2 4 0.8 3 1 3 0.8 3 1.2 3 1.2 3 1 6 2 3 0.8 6 0.8 2 0.8 2 0.8 9 1.2 4 1 3 2 6 1 3 0.8 2 1 2 2 3 2 6 0.8 2 1 6 0.8 4 1.2 4 1 9 1 3 1 3 0.8 2 1.2 6 1.2 2 2 4 1 4 1 3 1.5 1 1 1 4.5 1 4.5 1 4.5 1.4 0.6 3 9 3 3 1 3 0 0 3000" opacity="0.6"/>
<path d="M849.2,537.7 L1010,537.7" fill="none" stroke="url(#dashG)" stroke-width="1.2" stroke-dasharray="2 6 1.2 4 2 2 2 2 0.8 3 1.2 2 1.2 23.4 0.8 0.8 1 1 0.8 0.7 1 0.8 3 1 4.5 2.2 0.8 0.7 2 3.2 0.8 1 0.8 3.5 2 7 1 0.8 3 15.8 0.8 1 2 2.2 2 1 3 0.8 1 0.8 4.5 4.8 1 1 2 0.7 4.5 0.7 0.8 1.4 4.5 5.5 0 3000" opacity="0.5"/>
</g>
<text x="561" y="147.2" font-size="10" textLength="89" xml:space="preserve"><tspan fill="#254468">01 10 01</tspan><tspan fill="#1c3556">    1</tspan><tspan fill="#254468">I</tspan><tspan fill="#254468">0 01</tspan></text>
<text x="561" y="267.8" font-size="10" textLength="89" xml:space="preserve"><tspan fill="#254468">01 10 01</tspan><tspan fill="#1c3556">    1</tspan><tspan fill="#254468">I</tspan><tspan fill="#4a6d90">0 01</tspan></text>
<text x="561" y="390.2" font-size="10" textLength="89" xml:space="preserve"><tspan fill="#254468">01 10 01</tspan><tspan fill="#1c3556">    1</tspan><tspan fill="#254468">I</tspan><tspan fill="#4a6d90">0 01</tspan></text>
<text x="561" y="516" font-size="10" textLength="89" xml:space="preserve"><tspan fill="#254468">00 10 01</tspan><tspan fill="#1c3556">    1</tspan><tspan fill="#254468">/0/01</tspan></text>
<text y="163.9" font-size="10" xml:space="preserve"><tspan x="867" fill="#254468" textLength="40">01 1I0 31</tspan><tspan x="923.5" fill="#6888a8" textLength="25.5">00 10</tspan><tspan x="955.5" fill="#254468">1</tspan><tspan x="967" fill="#92adc8" textLength="12">00</tspan></text>
<text y="218.2" font-size="10" xml:space="preserve"><tspan x="882.5" fill="#1c3556" textLength="43">10 11/000</tspan><tspan x="942" fill="#254468">0</tspan><tspan x="953" fill="#6888a8" textLength="11">01</tspan><tspan x="968" fill="#92adc8" textLength="11.5">10</tspan></text>
<text y="285.6" font-size="10" xml:space="preserve"><tspan x="867" fill="#254468" textLength="40">01 1I0 31</tspan><tspan x="923.5" fill="#6888a8" textLength="25.5">00 10</tspan><tspan x="955.5" fill="#254468">1</tspan><tspan x="967" fill="#92adc8" textLength="12">00</tspan></text>
<text y="339.9" font-size="10" xml:space="preserve"><tspan x="882.5" fill="#1c3556" textLength="43">10 1I1000</tspan><tspan x="942" fill="#254468">0</tspan><tspan x="953" fill="#6888a8" textLength="11">01</tspan><tspan x="968" fill="#92adc8" textLength="11.5">10</tspan></text>
<text y="407.2" font-size="10" xml:space="preserve"><tspan x="867" fill="#254468" textLength="40">01 1/0 01</tspan><tspan x="923.5" fill="#6888a8" textLength="25.5">00 10</tspan><tspan x="955.5" fill="#254468">1</tspan><tspan x="967" fill="#92adc8" textLength="12">00</tspan></text>
<text y="461.5" font-size="10" xml:space="preserve"><tspan x="882.5" fill="#1c3556" textLength="43">10 01000</tspan><tspan x="942" fill="#254468">0</tspan><tspan x="953" fill="#6888a8" textLength="11">01</tspan><tspan x="968" fill="#92adc8" textLength="11.5">10</tspan></text>
<text y="524.4" font-size="10" xml:space="preserve"><tspan x="867" fill="#254468" textLength="40">01 1/0 01</tspan><tspan x="923.5" fill="#6888a8" textLength="25.5">00 10</tspan><tspan x="955.5" fill="#254468">1</tspan><tspan x="967" fill="#92adc8" textLength="12">00</tspan></text>
<text y="578.7" font-size="10" xml:space="preserve"><tspan x="882.5" fill="#1c3556" textLength="43">10 01090</tspan><tspan x="942" fill="#254468">0</tspan><tspan x="953" fill="#6888a8" textLength="11">01</tspan><tspan x="968" fill="#92adc8" textLength="11.5">10</tspan></text>
<g>
<rect x="387" y="127" width="144" height="100" rx="3.5" fill="#66819c"/>
<rect x="392" y="132" width="134" height="90" fill="#405e7c"/>
<path d="M405,135.4 L513,135.4 A9.6,9.6 0 0 0 522.6,145 L522.6,209 A9.6,9.6 0 0 0 513,218.6 L405,218.6 A9.6,9.6 0 0 0 395.4,209 L395.4,145 A9.6,9.6 0 0 0 405,135.4 Z" fill="#7d98b0"/>
<rect x="434.5" y="146.2" width="49.5" height="7.6" rx="3.8" fill="#415f7d"/>
<rect x="409" y="164.5" width="100" height="4" rx="2" fill="#415f7d"/>
<rect x="409" y="174" width="80" height="4" rx="2" fill="#415f7d"/>
<rect x="409" y="201" width="40.5" height="3.8" rx="1.9" fill="#415f7d"/>
<circle cx="496.2" cy="198.8" r="13.8" fill="#466482"/>
<path d="M490.5,193.1 l11.4,11.4 m0,-11.4 l-11.4,11.4" stroke="#7f99b0" stroke-width="2.8" stroke-linecap="round" fill="none"/>
</g>
<g>
<rect x="387" y="251" width="144" height="100" rx="3.5" fill="#66819c"/>
<rect x="392" y="256" width="134" height="90" fill="#405e7c"/>
<path d="M405,259.4 L513,259.4 A9.6,9.6 0 0 0 522.6,269 L522.6,333 A9.6,9.6 0 0 0 513,342.6 L405,342.6 A9.6,9.6 0 0 0 395.4,333 L395.4,269 A9.6,9.6 0 0 0 405,259.4 Z" fill="#7d98b0"/>
<rect x="434.5" y="270.2" width="49.5" height="7.6" rx="3.8" fill="#415f7d"/>
<rect x="409" y="288.5" width="100" height="4" rx="2" fill="#415f7d"/>
<rect x="409" y="298" width="80" height="4" rx="2" fill="#415f7d"/>
<rect x="409" y="325" width="40.5" height="3.8" rx="1.9" fill="#415f7d"/>
<circle cx="496.2" cy="322.8" r="13.8" fill="#466482"/>
<path d="M490.5,317.1 l11.4,11.4 m0,-11.4 l-11.4,11.4" stroke="#7f99b0" stroke-width="2.8" stroke-linecap="round" fill="none"/>
</g>
<g>
<rect x="387" y="375.3" width="144" height="100" rx="3.5" fill="#66819c"/>
<rect x="392" y="380.3" width="134" height="90" fill="#405e7c"/>
<path d="M405,383.7 L513,383.7 A9.6,9.6 0 0 0 522.6,393.3 L522.6,457.3 A9.6,9.6 0 0 0 513,466.9 L405,466.9 A9.6,9.6 0 0 0 395.4,457.3 L395.4,393.3 A9.6,9.6 0 0 0 405,383.7 Z" fill="#7d98b0"/>
<rect x="434.5" y="394.5" width="49.5" height="7.6" rx="3.8" fill="#415f7d"/>
<rect x="409" y="412.8" width="100" height="4" rx="2" fill="#415f7d"/>
<rect x="409" y="422.3" width="80" height="4" rx="2" fill="#415f7d"/>
<rect x="409" y="449.3" width="40.5" height="3.8" rx="1.9" fill="#415f7d"/>
<circle cx="496.2" cy="447.1" r="13.8" fill="#466482"/>
<path d="M490.5,441.4 l11.4,11.4 m0,-11.4 l-11.4,11.4" stroke="#7f99b0" stroke-width="2.8" stroke-linecap="round" fill="none"/>
</g>
<g>
<rect x="387" y="499.3" width="144" height="100" rx="3.5" fill="#66819c"/>
<rect x="392" y="504.3" width="134" height="90" fill="#405e7c"/>
<path d="M405,507.7 L513,507.7 A9.6,9.6 0 0 0 522.6,517.3 L522.6,581.3 A9.6,9.6 0 0 0 513,590.9 L405,590.9 A9.6,9.6 0 0 0 395.4,581.3 L395.4,517.3 A9.6,9.6 0 0 0 405,507.7 Z" fill="#7d98b0"/>
<rect x="434.5" y="518.5" width="49.5" height="7.6" rx="3.8" fill="#415f7d"/>
<rect x="409" y="536.8" width="100" height="4" rx="2" fill="#415f7d"/>
<rect x="409" y="546.3" width="80" height="4" rx="2" fill="#415f7d"/>
<rect x="409" y="573.3" width="40.5" height="3.8" rx="1.9" fill="#415f7d"/>
<circle cx="496.2" cy="571.1" r="13.8" fill="#466482"/>
<path d="M490.5,565.4 l11.4,11.4 m0,-11.4 l-11.4,11.4" stroke="#7f99b0" stroke-width="2.8" stroke-linecap="round" fill="none"/>
</g>
<g filter="url(#gRed)">
<path d="M526.4,118.8A2.2,2.2 0 0 1 530.2,118.8L542.5,139.7A2.2,2.2 0 0 1 540.6,143L516,143A2.2,2.2 0 0 1 514.1,139.7Z" fill="#7a2034" fill-opacity="0.52" stroke="#f58284" stroke-width="2.4" stroke-linejoin="round"/>
<rect x="526.7" y="125.3" width="3.2" height="11.8" rx="1.2" fill="#b85f70"/>
<circle cx="528.3" cy="139.6" r="1.7" fill="#b85f70"/>
</g>
<g filter="url(#gRed)">
<path d="M526.4,242.8A2.2,2.2 0 0 1 530.2,242.8L542.5,263.7A2.2,2.2 0 0 1 540.6,267L516,267A2.2,2.2 0 0 1 514.1,263.7Z" fill="#7a2034" fill-opacity="0.52" stroke="#f58284" stroke-width="2.4" stroke-linejoin="round"/>
<rect x="526.7" y="249.3" width="3.2" height="11.8" rx="1.2" fill="#b85f70"/>
<circle cx="528.3" cy="263.6" r="1.7" fill="#b85f70"/>
</g>
<g filter="url(#gRed)">
<path d="M526.4,367.1A2.2,2.2 0 0 1 530.2,367.1L542.5,388A2.2,2.2 0 0 1 540.6,391.3L516,391.3A2.2,2.2 0 0 1 514.1,388Z" fill="#7a2034" fill-opacity="0.52" stroke="#f58284" stroke-width="2.4" stroke-linejoin="round"/>
<rect x="526.7" y="373.6" width="3.2" height="11.8" rx="1.2" fill="#b85f70"/>
<circle cx="528.3" cy="387.9" r="1.7" fill="#b85f70"/>
</g>
<g filter="url(#gRed)">
<path d="M526.4,491.1A2.2,2.2 0 0 1 530.2,491.1L542.5,512A2.2,2.2 0 0 1 540.6,515.3L516,515.3A2.2,2.2 0 0 1 514.1,512Z" fill="#7a2034" fill-opacity="0.52" stroke="#f58284" stroke-width="2.4" stroke-linejoin="round"/>
<rect x="526.7" y="497.6" width="3.2" height="11.8" rx="1.2" fill="#b85f70"/>
<circle cx="528.3" cy="511.9" r="1.7" fill="#b85f70"/>
</g>
<rect x="1047" y="123" width="152" height="108" rx="8" fill="#2a8fd6" opacity="0.5" filter="url(#gCard)"/>
<rect x="1050" y="126" width="146" height="102" rx="5" fill="#3f9fe0" opacity="0.5" filter="url(#gCard2)"/>
<rect x="1051" y="127" width="144" height="100" rx="4" fill="#caeefc"/>
<rect x="1055.5" y="131.5" width="135" height="91" fill="#99d3f0"/>
<path d="M1068.2,135.6 L1177.8,135.6 A9.2,9.2 0 0 0 1187,144.8 L1187,209.4 A9.2,9.2 0 0 0 1177.8,218.6 L1068.2,218.6 A9.2,9.2 0 0 0 1059,209.4 L1059,144.8 A9.2,9.2 0 0 0 1068.2,135.6 Z" fill="#ffffff"/>
<rect x="1098" y="146.3" width="50" height="7.2" rx="3.6" fill="#a3d5f2"/>
<rect x="1073" y="164.4" width="100" height="4" rx="2" fill="#a3d5f2"/>
<rect x="1073" y="174" width="79.5" height="4" rx="2" fill="#a3d5f2"/>
<rect x="1073" y="200.6" width="40" height="4" rx="2" fill="#a3d5f2"/>
<path d="M1152.7,195.2 v-4.5 a6,6 0 0 1 12,0 v4.5" fill="none" stroke="#2fc45f" stroke-width="3.3"/>
<rect x="1147.5" y="193.7" width="22.5" height="18.8" rx="3" fill="#2fc45f"/>
<circle cx="1158.6" cy="200.8" r="2.5" fill="#fff"/>
<path d="M1156.5,207.4 l1.2,-5.6 h1.8 l1.2,5.6 z" fill="#fff"/>
<rect x="1047" y="247" width="152" height="108" rx="8" fill="#2a8fd6" opacity="0.5" filter="url(#gCard)"/>
<rect x="1050" y="250" width="146" height="102" rx="5" fill="#3f9fe0" opacity="0.5" filter="url(#gCard2)"/>
<rect x="1051" y="251" width="144" height="100" rx="4" fill="#caeefc"/>
<rect x="1055.5" y="255.5" width="135" height="91" fill="#99d3f0"/>
<path d="M1068.2,259.6 L1177.8,259.6 A9.2,9.2 0 0 0 1187,268.8 L1187,333.4 A9.2,9.2 0 0 0 1177.8,342.6 L1068.2,342.6 A9.2,9.2 0 0 0 1059,333.4 L1059,268.8 A9.2,9.2 0 0 0 1068.2,259.6 Z" fill="#ffffff"/>
<rect x="1098" y="270.3" width="50" height="7.2" rx="3.6" fill="#a3d5f2"/>
<rect x="1073" y="288.4" width="100" height="4" rx="2" fill="#a3d5f2"/>
<rect x="1073" y="298" width="79.5" height="4" rx="2" fill="#a3d5f2"/>
<rect x="1073" y="324.6" width="40" height="4" rx="2" fill="#a3d5f2"/>
<path d="M1152.7,319.2 v-4.5 a6,6 0 0 1 12,0 v4.5" fill="none" stroke="#2fc45f" stroke-width="3.3"/>
<rect x="1147.5" y="317.7" width="22.5" height="18.8" rx="3" fill="#2fc45f"/>
<circle cx="1158.6" cy="324.8" r="2.5" fill="#fff"/>
<path d="M1156.5,331.4 l1.2,-5.6 h1.8 l1.2,5.6 z" fill="#fff"/>
<rect x="1047" y="371.3" width="152" height="108" rx="8" fill="#2a8fd6" opacity="0.5" filter="url(#gCard)"/>
<rect x="1050" y="374.3" width="146" height="102" rx="5" fill="#3f9fe0" opacity="0.5" filter="url(#gCard2)"/>
<rect x="1051" y="375.3" width="144" height="100" rx="4" fill="#caeefc"/>
<rect x="1055.5" y="379.8" width="135" height="91" fill="#99d3f0"/>
<path d="M1068.2,383.9 L1177.8,383.9 A9.2,9.2 0 0 0 1187,393.1 L1187,457.7 A9.2,9.2 0 0 0 1177.8,466.9 L1068.2,466.9 A9.2,9.2 0 0 0 1059,457.7 L1059,393.1 A9.2,9.2 0 0 0 1068.2,383.9 Z" fill="#ffffff"/>
<rect x="1098" y="394.6" width="50" height="7.2" rx="3.6" fill="#a3d5f2"/>
<rect x="1073" y="412.7" width="100" height="4" rx="2" fill="#a3d5f2"/>
<rect x="1073" y="422.3" width="79.5" height="4" rx="2" fill="#a3d5f2"/>
<rect x="1073" y="448.9" width="40" height="4" rx="2" fill="#a3d5f2"/>
<path d="M1152.7,443.5 v-4.5 a6,6 0 0 1 12,0 v4.5" fill="none" stroke="#2fc45f" stroke-width="3.3"/>
<rect x="1147.5" y="442" width="22.5" height="18.8" rx="3" fill="#2fc45f"/>
<circle cx="1158.6" cy="449.1" r="2.5" fill="#fff"/>
<path d="M1156.5,455.7 l1.2,-5.6 h1.8 l1.2,5.6 z" fill="#fff"/>
<rect x="1047" y="495.3" width="152" height="108" rx="8" fill="#2a8fd6" opacity="0.5" filter="url(#gCard)"/>
<rect x="1050" y="498.3" width="146" height="102" rx="5" fill="#3f9fe0" opacity="0.5" filter="url(#gCard2)"/>
<rect x="1051" y="499.3" width="144" height="100" rx="4" fill="#caeefc"/>
<rect x="1055.5" y="503.8" width="135" height="91" fill="#99d3f0"/>
<path d="M1068.2,507.9 L1177.8,507.9 A9.2,9.2 0 0 0 1187,517.1 L1187,581.7 A9.2,9.2 0 0 0 1177.8,590.9 L1068.2,590.9 A9.2,9.2 0 0 0 1059,581.7 L1059,517.1 A9.2,9.2 0 0 0 1068.2,507.9 Z" fill="#ffffff"/>
<rect x="1098" y="518.6" width="50" height="7.2" rx="3.6" fill="#a3d5f2"/>
<rect x="1073" y="536.7" width="100" height="4" rx="2" fill="#a3d5f2"/>
<rect x="1073" y="546.3" width="79.5" height="4" rx="2" fill="#a3d5f2"/>
<rect x="1073" y="572.9" width="40" height="4" rx="2" fill="#a3d5f2"/>
<path d="M1152.7,567.5 v-4.5 a6,6 0 0 1 12,0 v4.5" fill="none" stroke="#2fc45f" stroke-width="3.3"/>
<rect x="1147.5" y="566" width="22.5" height="18.8" rx="3" fill="#2fc45f"/>
<circle cx="1158.6" cy="573.1" r="2.5" fill="#fff"/>
<path d="M1156.5,579.7 l1.2,-5.6 h1.8 l1.2,5.6 z" fill="#fff"/>
<g filter="url(#gGreenS)">
<path d="M1193.2,199.2Q1199.6,203.8 1206.9,204.6Q1208.4,204.9 1208.4,206.4L1208.4,217.4C1208.4,226.2 1200,232 1193.2,235.7C1186.4,232 1178,226.2 1178,217.4L1178,206.4Q1178,204.9 1179.5,204.6Q1186.8,203.8 1193.2,199.2Z" fill="#1f6f55" stroke="#5fe79a" stroke-width="2.6" stroke-linejoin="round"/>
<path d="M1186.2,217 l4.6,4.6 l9.6,-10.2" fill="none" stroke="#6cf0a4" stroke-width="2.8" stroke-linecap="round" stroke-linejoin="round"/>
</g>
<g filter="url(#gGreenS)">
<path d="M1193.2,323.2Q1199.6,327.8 1206.9,328.6Q1208.4,328.9 1208.4,330.4L1208.4,341.4C1208.4,350.2 1200,356.1 1193.2,359.7C1186.4,356.1 1178,350.2 1178,341.4L1178,330.4Q1178,328.9 1179.5,328.6Q1186.8,327.8 1193.2,323.2Z" fill="#1f6f55" stroke="#5fe79a" stroke-width="2.6" stroke-linejoin="round"/>
<path d="M1186.2,341 l4.6,4.6 l9.6,-10.2" fill="none" stroke="#6cf0a4" stroke-width="2.8" stroke-linecap="round" stroke-linejoin="round"/>
</g>
<g filter="url(#gGreenS)">
<path d="M1193.2,447.5Q1199.6,452.1 1206.9,452.9Q1208.4,453.2 1208.4,454.7L1208.4,465.8C1208.4,474.5 1200,480.4 1193.2,484C1186.4,480.4 1178,474.5 1178,465.8L1178,454.7Q1178,453.2 1179.5,452.9Q1186.8,452.1 1193.2,447.5Z" fill="#1f6f55" stroke="#5fe79a" stroke-width="2.6" stroke-linejoin="round"/>
<path d="M1186.2,465.3 l4.6,4.6 l9.6,-10.2" fill="none" stroke="#6cf0a4" stroke-width="2.8" stroke-linecap="round" stroke-linejoin="round"/>
</g>
<g filter="url(#gGreenS)">
<path d="M1193.2,571.5Q1199.6,576.1 1206.9,576.9Q1208.4,577.2 1208.4,578.7L1208.4,589.8C1208.4,598.5 1200,604.4 1193.2,608C1186.4,604.4 1178,598.5 1178,589.8L1178,578.7Q1178,577.2 1179.5,576.9Q1186.8,576.1 1193.2,571.5Z" fill="#1f6f55" stroke="#5fe79a" stroke-width="2.6" stroke-linejoin="round"/>
<path d="M1186.2,589.3 l4.6,4.6 l9.6,-10.2" fill="none" stroke="#6cf0a4" stroke-width="2.8" stroke-linecap="round" stroke-linejoin="round"/>
</g>
<g filter="url(#gOrange)">
<path d="M407.8,50.7A4,4 0 0 1 414.7,50.7L437.5,90.9A4,4 0 0 1 434,96.9L388.5,96.9A4,4 0 0 1 385,90.9Z" fill="#6a3527" stroke="#f6b97c" stroke-width="4.2" stroke-linejoin="round"/>
<rect x="408.2" y="63" width="6.2" height="19.6" rx="2.6" fill="#f6b97c"/>
<circle cx="411.3" cy="86.8" r="3.1" fill="#f6b97c"/>
<text x="447.2" y="86.3" font-size="34.6" font-weight="700" fill="#f8c188" textLength="69.4" lengthAdjust="spacingAndGlyphs">OLD</text>
</g>
<g filter="url(#gGreen)">
<path d="M1074.6,46.6Q1084.4,53.6 1095.9,54.8Q1097.9,55.2 1097.9,57.2L1097.9,74.3C1097.9,87.6 1085.1,96.5 1074.6,102C1064.1,96.5 1051.3,87.6 1051.3,74.3L1051.3,57.2Q1051.3,55.2 1053.3,54.8Q1064.8,53.6 1074.6,46.6Z" fill="#1b6b52" stroke="#5fe9a1" stroke-width="3.6" stroke-linejoin="round"/>
<path d="M1062.8,73.8 L1071.3,81.9 L1086.8,65.7" fill="none" stroke="#62eca4" stroke-width="4.2" stroke-linecap="butt" stroke-linejoin="miter"/>
<text x="1112.8" y="86" font-size="33.6" font-weight="700" fill="#5feba2" textLength="78" lengthAdjust="spacingAndGlyphs">NEW</text>
</g>
</svg>
</body></html>
